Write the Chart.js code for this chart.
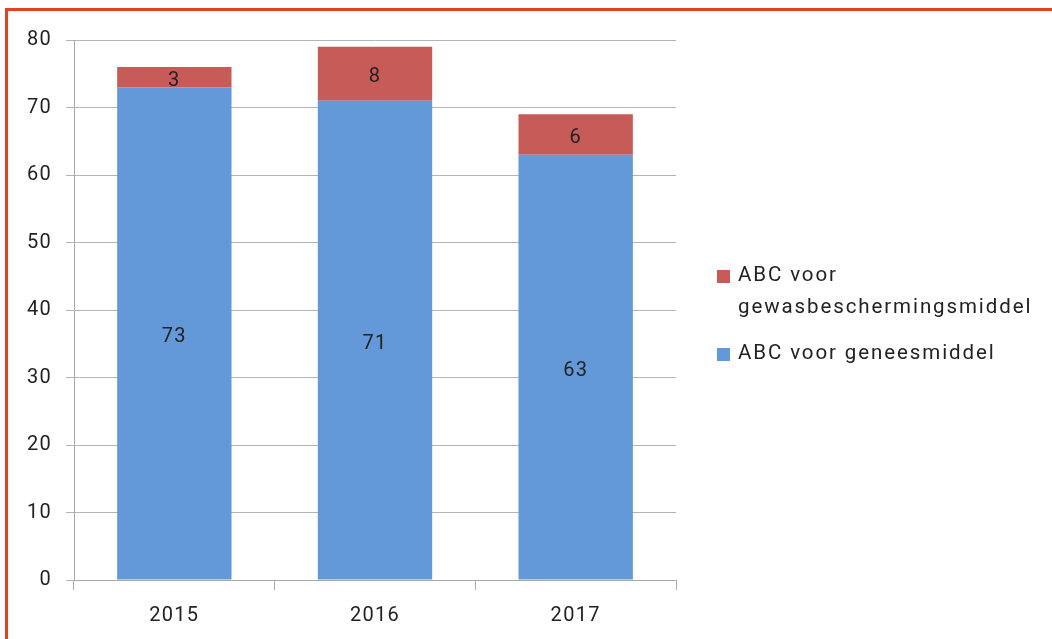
<!DOCTYPE html>
<html>
<head>
<meta charset="utf-8">
<script src="https://cdn.jsdelivr.net/npm/chart.js@4"></script>
<style>
html,body{margin:0;padding:0;background:#fff;}
#wrap{position:absolute;left:0;top:0;width:1052px;height:639px;}
#frame{position:absolute;left:5px;top:8px;width:1060px;height:640px;border-top:3px solid #E2401F;border-left:3px solid #E2401F;box-sizing:border-box;}
canvas{position:absolute;left:0;top:0;}
</style>
</head>
<body>
<div id="wrap">
<div id="frame"></div>
<canvas id="c" width="1052" height="639"></canvas>
</div>
<script>
const categories = ["2015", "2016", "2017"];
const geneesmiddel = [73, 71, 63];
const gewasbescherming = [3, 8, 6];
const seriesNames = [["ABC voor", "gewasbeschermingsmiddel"], ["ABC voor geneesmiddel"]];
const FONT = "Roboto";

const spacing = {
  id: 'spacing',
  beforeDraw(chart) { chart.ctx.letterSpacing = '1.3px'; }
};

const valueLabels = {
  id: 'valueLabels',
  afterDatasetsDraw(chart) {
    const ctx = chart.ctx;
    ctx.save();
    ctx.letterSpacing = '1.3px';
    ctx.font = "20px " + FONT;
    ctx.fillStyle = "#222";
    ctx.textAlign = "center";
    ctx.textBaseline = "middle";
    chart.data.datasets.forEach((ds, i) => {
      chart.getDatasetMeta(i).data.forEach((bar, j) => {
        const y = (bar.y + bar.base) / 2 + 3.5;
        ctx.fillText(String(ds.data[j]), bar.x, y);
      });
    });
    ctx.restore();
  }
};

const sideLegend = {
  id: 'sideLegend',
  afterDraw(chart) {
    const ctx = chart.ctx;
    ctx.save();
    ctx.letterSpacing = '1.9px';
    ctx.font = "20.5px " + FONT;
    ctx.textBaseline = "middle";
    ctx.textAlign = "left";
    const order = [1, 0];
    let y = 276;
    order.forEach((di, k) => {
      const ds = chart.data.datasets[di];
      const lines = seriesNames[k];
      ctx.fillStyle = ds.backgroundColor;
      ctx.fillRect(717, y - 6, 13, 13);
      ctx.fillStyle = "#222";
      lines.forEach((ln, li) => {
        ctx.fillText(ln, 738, y + li * 32);
      });
      y += lines.length * 32 + 14;
    });
    ctx.restore();
  }
};

new Chart(document.getElementById('c'), {
  type: 'bar',
  data: {
    labels: categories,
    datasets: [
      { label: seriesNames[1].join(' '), data: geneesmiddel, backgroundColor: '#6399D8', categoryPercentage: 1, barPercentage: 0.57 },
      { label: seriesNames[0].join(' '), data: gewasbescherming, backgroundColor: '#C75B58', categoryPercentage: 1, barPercentage: 0.57 }
    ]
  },
  options: {
    responsive: false,
    animation: false,
    devicePixelRatio: 1,
    layout: { padding: { top: 40, right: 376, left: 0, bottom: 0 } },
    plugins: { legend: { display: false }, tooltip: { enabled: false } },
    scales: {
      x: {
        stacked: true,
        grid: { display: true, offset: true, drawOnChartArea: false, color: '#A8A8A8', tickLength: 10 },
        border: { display: true, color: '#A8A8A8' },
        ticks: { font: { family: FONT, size: 20 }, color: '#222', padding: 14 },
        afterFit(s) { s.height = 59; }
      },
      y: {
        stacked: true,
        min: 0, max: 80,
        ticks: { stepSize: 10, font: { family: FONT, size: 20 }, color: '#222', padding: 14 },
        grid: { color: '#B4B4B4', tickLength: 8 },
        border: { display: true, color: '#A8A8A8' },
        afterFit(s) { s.width = 74; }
      }
    }
  },
  plugins: [spacing, valueLabels, sideLegend]
});
</script>
</body>
</html>
